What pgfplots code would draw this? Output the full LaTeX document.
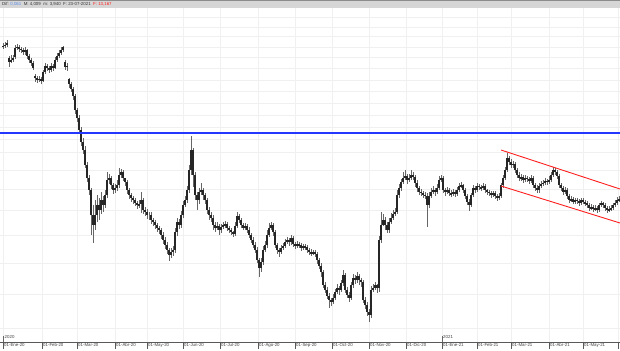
\documentclass[border=0pt]{standalone}
\usepackage{fontspec}
\setmainfont{Liberation Sans}
\usepackage{pgfplots}
\pgfplotsset{compat=1.18}
\usepackage{pgfplotstable}
\definecolor{hdr}{RGB}{214,214,214}
\definecolor{grd}{RGB}{240,240,240}
\definecolor{valblue}{RGB}{90,140,230}
\definecolor{chan}{RGB}{255,30,30}
\definecolor{levelblue}{RGB}{35,55,255}
% columns: x position, high, low, open, close (read in pixel rows of the reference, top = 0)
\pgfplotstableread{
x h l o c
3 43 49 47 46
5 42 48 46 45
7 40 47 45 43
9 56 67 58 62
11 55 63 62 60
13 55 62 60 58
15 45 59 57 48
17 44 50 48 47
19 45 52 47 49
21 47 53 49 50
23 48 55 50 52
25 47 55 52 50
27 49 59 50 56
29 54 63 56 60
31 58 66 60 63
33 61 70 63 68
35 74 82 76 78
37 76 83 78 80
39 76 82 80 79
41 77 84 79 81
43 70 82 81 72
45 63 74 72 66
47 64 71 66 68
49 66 73 68 70
51 63 72 70 66
53 64 71 66 68
55 57 69 68 60
57 53 62 60 56
59 50 58 56 53
61 47 55 53 50
63 46 52 50 47
65 60 70 62 67
67 63 71 67 66
69 78 88 79 84
71 82 92 84 89
73 87 100 89 96
75 94 114 96 110
77 108 122 110 118
79 115 134 118 130
81 127 146 130 142
83 138 154 142 150
85 146 168 150 165
87 162 182 165 178
89 175 195 178 190
91 188 235 190 215
93 205 243 215 225
95 200 230 225 215
97 195 222 215 205
99 198 220 205 210
101 192 214 210 200
103 196 212 200 205
105 190 208 205 195
107 172 198 195 180
109 174 184 180 178
111 176 189 178 185
113 183 194 185 190
115 184 193 190 188
117 180 191 188 185
119 168 188 185 175
121 169 178 175 172
123 170 181 172 178
125 178 186 178 182
127 180 194 182 190
129 188 199 190 195
131 193 202 195 198
133 196 204 198 200
135 198 206 200 203
137 201 209 203 205
139 200 208 205 204
141 192 213 204 200
143 198 214 200 210
145 207 216 210 212
147 209 219 212 215
149 212 220 215 215
151 212 224 215 220
153 218 226 220 222
155 220 229 222 225
157 223 232 225 228
159 226 234 228 230
161 228 239 230 235
163 232 244 235 240
165 237 249 240 245
167 242 254 245 250
169 248 261 250 255
171 248 258 255 252
173 246 256 252 250
175 228 253 250 232
177 218 236 232 222
179 219 229 222 225
181 211 228 225 215
183 201 218 215 205
185 196 207 205 200
187 186 203 200 190
189 165 193 190 170
191 136 175 170 150
193 148 187 150 175
195 172 200 175 195
197 192 210 195 200
199 188 204 200 192
201 183 195 192 190
203 188 200 190 195
205 193 204 195 200
207 198 214 200 210
209 207 220 210 215
211 212 222 215 218
213 215 230 218 225
215 222 232 225 228
217 222 230 228 226
219 224 235 226 230
221 224 233 230 227
223 222 229 227 225
225 221 228 225 224
227 222 231 224 228
229 226 233 228 230
231 228 235 230 232
233 231 237 232 234
235 222 236 234 226
237 212 228 226 216
239 214 223 216 220
241 218 228 220 225
243 223 230 225 228
245 223 230 228 226
247 224 233 226 230
249 227 238 230 235
251 233 243 235 240
253 237 248 240 245
255 242 253 245 250
257 247 263 250 260
259 258 277 260 268
261 258 272 268 262
263 246 265 262 250
265 241 252 250 245
267 230 248 245 235
269 223 237 235 228
271 222 230 228 225
273 223 236 225 232
275 230 248 232 245
277 243 254 245 250
279 248 257 250 252
281 245 254 252 248
283 243 250 248 246
285 239 248 246 242
287 237 244 242 240
289 238 246 240 242
291 235 245 242 238
293 236 247 238 244
295 242 249 244 246
297 241 248 246 244
299 242 248 244 245
301 243 251 245 248
303 244 250 248 246
305 244 250 246 247
307 245 253 247 250
309 248 255 250 252
311 249 256 252 253
313 250 255 253 252
315 250 257 252 254
317 252 264 254 260
319 258 269 260 266
321 263 277 266 272
323 270 288 272 285
325 282 293 285 290
327 287 299 290 296
329 293 308 296 300
331 298 306 300 302
333 294 304 302 298
335 289 300 298 292
337 284 294 292 288
339 286 295 288 290
341 280 292 290 283
343 270 286 283 275
345 273 293 275 290
347 287 298 290 295
349 292 302 295 298
351 282 300 298 285
353 274 288 285 278
355 275 284 278 280
357 272 283 280 276
359 274 285 276 280
361 278 287 280 282
363 280 303 282 300
365 297 309 300 305
367 302 316 305 312
369 309 322 312 315
371 286 318 315 290
373 284 292 290 288
375 282 290 288 285
377 284 293 285 288
379 236 292 288 240
381 212 243 240 225
383 214 226 225 220
385 217 230 220 225
387 222 233 225 230
389 218 233 230 222
391 213 224 222 218
393 210 220 218 214
395 208 216 214 212
397 190 214 212 195
399 184 198 195 188
401 179 191 188 182
403 172 184 182 178
405 170 180 178 176
407 174 184 176 180
409 174 182 180 178
411 170 180 178 175
413 172 180 175 177
415 175 187 177 183
417 180 192 183 188
419 186 195 188 192
421 189 196 192 193
423 191 198 193 195
425 192 199 195 196
427 193 227 196 205
429 192 208 205 196
431 188 198 196 192
433 186 194 192 190
435 188 196 190 192
437 184 194 192 188
439 176 190 188 180
441 175 182 180 178
443 176 193 178 190
445 188 196 190 192
447 187 194 192 190
449 188 196 190 193
451 190 197 193 194
453 189 196 194 192
455 190 197 192 194
457 187 196 194 190
459 183 192 190 186
461 182 188 186 185
463 184 193 185 190
465 188 199 190 196
467 194 205 196 202
469 199 211 202 205
471 193 207 205 195
473 185 197 195 188
475 186 193 188 190
477 183 192 190 186
479 184 190 186 187
481 185 191 187 188
483 183 190 188 186
485 184 193 186 190
487 189 195 190 192
489 190 196 192 193
491 191 198 193 195
493 191 197 195 193
495 191 199 193 196
497 194 201 196 198
499 193 200 198 196
501 183 198 196 185
503 175 188 185 178
505 167 180 178 170
507 153 172 170 158
509 156 165 158 162
511 159 168 162 165
513 161 168 165 164
515 162 173 164 170
517 168 178 170 175
519 172 181 175 178
521 174 181 178 177
523 175 183 177 180
525 175 182 180 178
527 176 182 178 179
529 177 184 179 181
531 175 183 181 178
533 176 188 178 185
535 183 191 185 188
537 185 193 188 190
539 183 193 190 186
541 181 188 186 184
543 180 186 184 183
545 178 185 183 181
547 179 185 181 182
549 176 184 182 180
551 172 182 180 175
553 167 177 175 170
555 168 175 170 172
557 170 179 172 176
559 174 188 176 185
561 183 191 185 188
563 186 195 188 192
565 187 194 192 190
567 188 199 190 196
569 194 203 196 200
571 196 202 200 199
573 197 204 199 202
575 198 204 202 200
577 198 204 200 201
579 199 206 201 203
581 198 205 203 200
583 198 204 200 202
585 200 206 202 203
587 201 208 203 205
589 203 211 205 208
591 204 210 208 207
593 205 212 207 209
595 205 211 209 208
597 206 213 208 210
599 203 212 210 205
601 201 207 205 203
603 202 208 203 205
605 203 211 205 208
607 206 213 208 210
609 206 212 210 209
611 205 211 209 208
613 203 210 208 205
615 200 207 205 203
617 197 205 203 200
619 196 202 200 199
}\candles

\begin{document}
\begin{tikzpicture}[x=1bp,y=1bp]
\useasboundingbox (0,-8) rectangle (620,342);
\begin{axis}[
  at={(0,0)}, anchor=south west,
  scale only axis, width=620bp, height=334bp,
  xmin=0, xmax=620, ymin=8, ymax=342,
  axis line style={draw=none},
  xtick={3,42,77,115,147,183,220,258,295,332,369,406,442,477,511,549,583,618},
  xticklabels={01-Ene-20,01-Feb-20,01-Mar-20,01-Abr-20,01-May-20,01-Jun-20,01-Jul-20,01-Ago-20,01-Sep-20,01-Oct-20,01-Nov-20,01-Dic-20,01-Ene-21,01-Feb-21,01-Mar-21,01-Abr-21,01-May-21,{}},
  ytick={22,56,87,115,140,161,180,198,211,223,235,247,259,270,282,293,303,314,323,333},
  yticklabels={},
  grid=major,
  major grid style={grd, line width=0.5bp},
  tick align=outside,
  xtick pos=bottom,
  ytick style={draw=none},
  major tick length=7bp,
  xtick style={black!65, line width=0.5bp},
  xticklabel style={font=\fontsize{4.4}{5}\selectfont, anchor=north west, inner sep=0pt, xshift=1bp, yshift=5.5bp, text=black!75},
]
\addplot[draw=none, mark=none, forget plot,
  error bars/.cd, y dir=both, y explicit, error mark=none,
  error bar style={line width=0.5bp, draw=black!60}]
  table[x=x, y expr={350-(\thisrow{h}+\thisrow{l})/2}, y error expr={(\thisrow{l}-\thisrow{h})/2}] {\candles};
\addplot[draw=none, mark=none, forget plot,
  error bars/.cd, y dir=both, y explicit, error mark=none,
  error bar style={line width=1.2bp, draw=black!85}]
  table[x=x, y expr={350-(\thisrow{o}+\thisrow{c})/2}, y error expr={abs(\thisrow{o}-\thisrow{c})/2}] {\candles};
\addplot[draw=levelblue, line width=1.1bp, mark=none] coordinates {(0,217) (620,217)};
\addplot[draw=chan, line width=0.9bp, mark=none] coordinates {(501,200) (620,161)};
\addplot[draw=chan, line width=0.9bp, mark=none] coordinates {(501,164) (620,127)};
\end{axis}
\draw[black!65, line width=0.5bp] (0,0) -- (620,0);
\fill[hdr] (0,334) rectangle (620,342);
\draw[black!45, line width=0.5bp] (0,341.75) -- (620,341.75);
\node[anchor=west, inner sep=0pt, font=\fontsize{4.4}{5}\selectfont, text=black!80] at (2,338)
  {Dif: \textcolor{valblue}{0,061}\ \ M: 4,009\ \ m: 3,940\ \ F: 23-07-2021\ \ \textcolor{chan}{F: 13,167}};
\draw[black!60, line width=0.4bp] (3.5,0) -- (3.5,6);
\node[anchor=south west, inner sep=0pt, font=\fontsize{4.4}{5}\selectfont, text=black!75] at (4.5,3) {2020};
\draw[black!60, line width=0.4bp] (442,0) -- (442,6);
\node[anchor=south west, inner sep=0pt, font=\fontsize{4.4}{5}\selectfont, text=black!75] at (443,3) {2021};
\end{tikzpicture}
\end{document}
